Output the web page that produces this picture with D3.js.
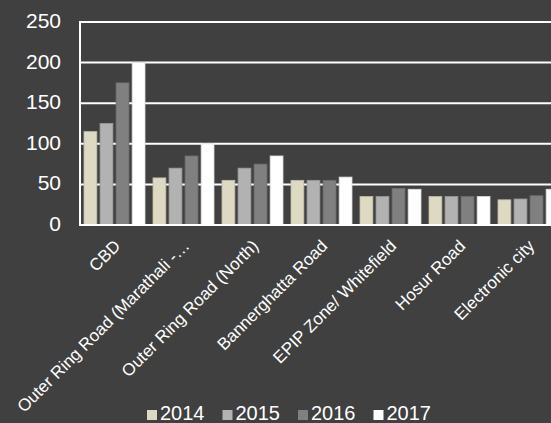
<!DOCTYPE html>
<html>
<head>
<meta charset="utf-8">
<script src="https://cdn.jsdelivr.net/npm/d3@7"></script>
<style>
  body { margin: 0; background: #404040; overflow: hidden; }
  text { font-family: "Liberation Sans", Arial, sans-serif; fill: #ffffff; }
</style>
</head>
<body>
<svg id="canvas"></svg>
<script>
// Chart data.
var categories = ['CBD', 'Outer Ring Road (Marathali -\u2026', 'Outer Ring Road (North)', 'Bannerghatta Road',
                  'EPIP Zone/ Whitefield', 'Hosur Road', 'Electronic city'];
var years = ['2014', '2015', '2016', '2017'];
var values2014 = [115, 58, 55, 55, 35, 35, 31];
var values2015 = [125, 70, 70, 55, 35, 35, 32];
var values2016 = [175, 85, 75, 55, 45, 35, 36];
var values2017 = [200, 100, 85, 59, 44, 35, 44];
var yTicks = [0, 50, 100, 150, 200, 250];

var series = [values2014, values2015, values2016, values2017];
var colours = ['#ddd9c3', '#b2b2b2', '#808080', '#ffffff'];

// Canvas settings.
var W = 551, H = 423;
var plot = { left: 80, top: 22, width: 483, bottom: 225 };

var svg = d3.select('#canvas').attr('width', W).attr('height', H);

// Scales.
var x = d3.scaleBand().domain(categories).range([plot.left, plot.left + plot.width]);
var xInner = d3.scaleBand().domain(years).range([4, x.bandwidth() - 4]).paddingInner(0.2);
var y = d3.scaleLinear().domain([0, 250]).range([plot.bottom, plot.top]);

// Gridlines.
svg.append('g')
  .selectAll('line')
  .data(yTicks.slice(1))
  .enter()
  .append('line')
  .attr('x1', plot.left).attr('x2', W)
  .attr('y1', function(d) { return y(d); })
  .attr('y2', function(d) { return y(d); })
  .attr('stroke', '#ffffff')
  .attr('stroke-width', 2);

// Y axis labels.
svg.append('g')
  .selectAll('text')
  .data(yTicks)
  .enter()
  .append('text')
  .attr('x', 61)
  .attr('y', function(d) { return y(d) + 6; })
  .attr('text-anchor', 'end')
  .style('font-size', '21px')
  .text(function(d) { return d; });

// Bars.
var groups = svg.append('g')
  .selectAll('g')
  .data(categories)
  .enter()
  .append('g')
  .attr('transform', function(d) { return 'translate(' + x(d) + ',0)'; });

groups.selectAll('rect')
  .data(function(d, i) {
    return years.map(function(yr, j) { return { year: yr, value: series[j][i], colour: colours[j] }; });
  })
  .enter()
  .append('rect')
  .attr('x', function(d) { return xInner(d.year); })
  .attr('width', xInner.bandwidth())
  .attr('y', function(d) { return y(d.value); })
  .attr('height', function(d) { return plot.bottom - y(d.value); })
  .attr('fill', function(d) { return d.colour; })
  .attr('stroke', function(d) { return d3.color(d.colour).darker(0.4); })
  .attr('stroke-width', 0.8);

// Axis lines.
svg.append('line')
  .attr('x1', plot.left).attr('x2', plot.left)
  .attr('y1', plot.top - 1).attr('y2', plot.bottom + 1)
  .attr('stroke', '#ffffff').attr('stroke-width', 2);
svg.append('line')
  .attr('x1', plot.left).attr('x2', W)
  .attr('y1', plot.bottom).attr('y2', plot.bottom)
  .attr('stroke', '#ffffff').attr('stroke-width', 2);

// X labels, rotated.
svg.append('g')
  .selectAll('text')
  .data(categories)
  .enter()
  .append('text')
  .attr('transform', function(d) {
    return 'translate(' + (x(d) + x.bandwidth() / 2 + 7) + ',' + 247 + ') rotate(-45)';
  })
  .attr('text-anchor', 'end')
  .style('font-size', '17px')
  .text(function(d) { return d; });

// Legend.
var legend = svg.append('g')
  .selectAll('g')
  .data(years)
  .enter()
  .append('g')
  .attr('transform', function(d, i) { return 'translate(' + (147 + i * 75.5) + ',410)'; });

legend.append('rect')
  .attr('width', 10).attr('height', 10)
  .attr('fill', function(d, i) { return colours[i]; });

legend.append('text')
  .attr('x', 13)
  .attr('y', 10)
  .style('font-size', '20px')
  .text(function(d) { return d; });
</script>
</body>
</html>
